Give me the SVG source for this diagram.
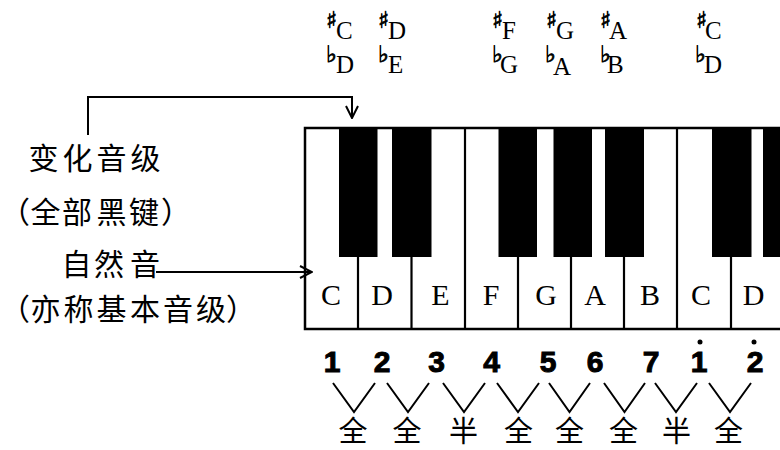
<svg xmlns="http://www.w3.org/2000/svg" width="780" height="450" viewBox="0 0 780 450">
<defs>
<marker id="arr" viewBox="0 0 14 14" refX="13" refY="7" markerWidth="14" markerHeight="14" markerUnits="userSpaceOnUse" orient="auto">
<path d="M1,1 L13,7 L1,13" fill="none" stroke="#000" stroke-width="2"/>
</marker>
<style>
.cjk{font-family:"Noto Sans CJK SC","Noto Sans CJK JP",sans-serif;font-size:30px;fill:#000}
.note{font-family:"Liberation Serif","Times New Roman",serif;font-size:25px;fill:#000}
.acc{font-family:"DejaVu Sans";font-size:23px;fill:#000;stroke:#000;stroke-width:0.7;font-variant-emoji:text}
.key{font-family:"Liberation Serif","Times New Roman",serif;font-size:30px;fill:#000;text-anchor:middle}
.num{font-family:"Liberation Sans",Arial,sans-serif;font-size:30px;font-weight:bold;fill:#000;stroke:#000;stroke-width:1;text-anchor:middle}
.step{font-family:"Noto Sans CJK SC","Noto Sans CJK JP",sans-serif;font-size:29px;fill:#000;text-anchor:middle}
.blk{fill:#000}
.div{stroke:#000;stroke-width:2.2}
.con{fill:none;stroke:#000;stroke-width:2}
.v{fill:none;stroke:#000;stroke-width:2}
</style>
</defs>
<rect width="780" height="450" fill="#fff"/>

<g id="top-labels">
<text class="acc" x="326" y="28">♯</text><text class="note" x="336" y="39">C</text>
<text class="acc" x="378" y="28">♯</text><text class="note" x="388" y="39">D</text>
<text class="acc" x="492" y="28">♯</text><text class="note" x="502" y="39">F</text>
<text class="acc" x="546" y="28">♯</text><text class="note" x="556" y="39">G</text>
<text class="acc" x="600" y="28">♯</text><text class="note" x="609" y="39">A</text>
<text class="acc" x="696" y="28">♯</text><text class="note" x="705" y="39">C</text>
<text class="acc" x="326" y="62">♭</text><text class="note" x="336" y="73">D</text>
<text class="acc" x="378" y="62">♭</text><text class="note" x="388" y="73">E</text>
<text class="acc" x="492" y="62">♭</text><text class="note" x="500" y="73">G</text>
<text class="acc" x="545" y="62">♭</text><text class="note" x="553" y="75">A</text>
<text class="acc" x="600" y="62">♭</text><text class="note" x="607" y="73">B</text>
<text class="acc" x="695" y="62">♭</text><text class="note" x="704" y="73">D</text>
</g>

<g id="keyboard">
<rect x="305" y="128" width="490" height="201" fill="#fff" stroke="#000" stroke-width="2.5"/>
<line class="div" x1="358" y1="257" x2="358" y2="329"/>
<line class="div" x1="411.5" y1="257" x2="411.5" y2="329"/>
<line class="div" x1="465" y1="128" x2="465" y2="329"/>
<line class="div" x1="518" y1="257" x2="518" y2="329"/>
<line class="div" x1="571" y1="257" x2="571" y2="329"/>
<line class="div" x1="624" y1="257" x2="624" y2="329"/>
<line class="div" x1="677" y1="128" x2="677" y2="329"/>
<line class="div" x1="731" y1="257" x2="731" y2="329"/>
<rect class="blk" x="339" y="128" width="38.5" height="129"/>
<rect class="blk" x="392" y="128" width="39.5" height="129"/>
<rect class="blk" x="498.5" y="128" width="38.5" height="129"/>
<rect class="blk" x="553.5" y="128" width="38.5" height="129"/>
<rect class="blk" x="605" y="128" width="39" height="129"/>
<rect class="blk" x="712" y="128" width="39.5" height="129"/>
<rect class="blk" x="763" y="128" width="30" height="129"/>
<text class="key" x="331" y="305">C</text>
<text class="key" x="382" y="305">D</text>
<text class="key" x="440.5" y="305">E</text>
<text class="key" x="491" y="305">F</text>
<text class="key" x="546" y="305">G</text>
<text class="key" x="595" y="305">A</text>
<text class="key" x="650" y="305">B</text>
<text class="key" x="701" y="305">C</text>
<text class="key" x="753.5" y="305">D</text>
</g>

<g id="label-altered">
<text class="cjk" x="28.5" y="168.5" letter-spacing="4">变化音级</text>
<text class="cjk" y="223"><tspan x="0">（</tspan><tspan x="30.5">全</tspan><tspan x="62">部</tspan><tspan x="96.5">黑</tspan><tspan x="129">键</tspan><tspan x="161">）</tspan></text>
</g>

<g id="label-natural">
<text class="cjk" y="274.5"><tspan x="61.5">自</tspan><tspan x="94">然</tspan><tspan x="130">音</tspan></text>
<text class="cjk" y="320"><tspan x="0">（</tspan><tspan x="30.5">亦</tspan><tspan x="63.5">称</tspan><tspan x="96.5">基</tspan><tspan x="130">本</tspan><tspan x="163">音</tspan><tspan x="196">级</tspan><tspan x="226">）</tspan></text>
</g>

<g id="connectors">
<path class="con" d="M88,135 V97 H352 V118" marker-end="url(#arr)"/>
<path class="con" d="M156,272 H312" marker-end="url(#arr)"/>
</g>

<g id="scale-numbers">
<text class="num" x="332" y="372">1</text>
<text class="num" x="382" y="372">2</text>
<text class="num" x="436.5" y="372">3</text>
<text class="num" x="491.5" y="372">4</text>
<text class="num" x="548" y="372">5</text>
<text class="num" x="595" y="372">6</text>
<text class="num" x="651" y="372">7</text>
<text class="num" x="699" y="372">1</text>
<circle cx="700" cy="342" r="2.5"/>
<text class="num" x="755" y="372">2</text>
<circle cx="754" cy="342" r="2.5"/>
</g>

<g id="intervals">
<path class="v" d="M333,383 L354,412 L375,383"/>
<path class="v" d="M387,383 L408,412 L429,383"/>
<path class="v" d="M443,383 L464,412 L485,383"/>
<path class="v" d="M497,383 L518,412 L539,383"/>
<path class="v" d="M549,383 L569.5,412 L590,383"/>
<path class="v" d="M604,383 L624.5,412 L645,383"/>
<path class="v" d="M655,383 L676,412 L697,383"/>
<path class="v" d="M709,383 L730,412 L751,383"/>
<text class="step" x="353" y="442">全</text>
<text class="step" x="407" y="442">全</text>
<text class="step" x="463.5" y="442">半</text>
<text class="step" x="518.5" y="442">全</text>
<text class="step" x="569.5" y="442">全</text>
<text class="step" x="623.5" y="442">全</text>
<text class="step" x="676.5" y="442">半</text>
<text class="step" x="728.5" y="442">全</text>
</g>
</svg>
